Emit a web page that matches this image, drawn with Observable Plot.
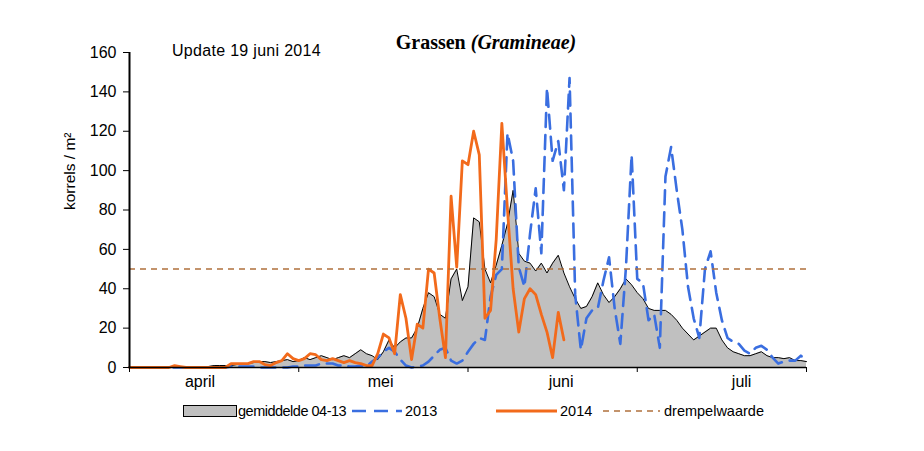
<!DOCTYPE html>
<html><head><meta charset="utf-8">
<script src="https://cdn.jsdelivr.net/npm/d3@7"></script>
<script src="https://cdn.jsdelivr.net/npm/@observablehq/plot@0.6"></script>
<style>
body{margin:0;background:#fff;font-family:"Liberation Sans",Arial,sans-serif;color:#000;}
#wrap{position:relative;width:924px;height:451px;overflow:hidden;}
#chart{position:absolute;left:0;top:0;}
#title{position:absolute;left:0;width:972px;top:31px;text-align:center;font-family:"Liberation Serif",serif;font-weight:bold;font-size:20px;z-index:2;}
#update{position:absolute;left:172px;top:42px;font-size:16px;letter-spacing:0.3px;z-index:2;}
.lg{position:absolute;top:403px;font-size:14.5px;line-height:16px;white-space:nowrap;}
.lg svg{position:absolute;top:0;}
</style></head>
<body><div id="wrap">
<div id="title">Grassen <i>(Gramineae)</i></div>
<div id="update">Update 19 juni 2014</div>
<div id="chart"></div>
<div id="legend"></div>
</div>
<script>
// day index 0 = 1 april
const avg0413 = [0,0,0,0,0,0,0,0,0,0,
 0.5,0.5,0.5,0.5,0.5,1,1,1,1,1.5,
 2,2,2.5,3,3,2.5,3,3.5,4,3,
 3.5,5,4,5,6,5,4,5,6,5,
 7,9,7,6,4,8,14,10,13,15,
 15,20,30,38,36,27,25,45,50,34,
 41,76,74,50,43,52,62,73,90,58,
 54,53,49,53,48,53,57,48,41,35,
 30,31,36,43,37,33,36,40,45,42,
 38,35,30,29,29,29,27,24,20,17,
 14,16,18,20,20,14,10,8,7,6,
 6,7,8,6,5,5,4.5,5,3.5,3.5,3];
const y2013 = [0,0,0,0,0,0,0,0,0,0,
 0,0,0,0,0,0,0,0,0.5,0.5,
 0.5,0.5,0.5,0,0,0,0,0,0,0.5,
 0.5,1,1,1,2,2,2,1,1,0.5,
 0.5,1,0.5,3,5,8,10,8,4,1,
 0,0.5,1,3,6,9,10,3.5,2,3.5,
 8,12,15,14,36,47,50,119,105,51,
 41,68,91,58,142,105,115,90,147,37,
 9,25,29,30,44,56,30,12,51,108,
 45,43,24,27,10,97,112,90,70,41,
 25,15,50,59,38,24,15,13,12,8.6,
 7,10,11,9,5,2,3,3.5,3.5,6,3.5];
const y2014 = [0,0,0,0,0,0,0,0,1,0.5,
 0,0,0,0,0,0,0,0,2,2,
 2,2,3,3,1.5,1,2.5,3.5,7,4.5,
 3.5,4.5,7,6.5,4,3.5,4.5,3.5,2.5,3.5,
 2.5,2,1,1,7,17,15,7,37,25,
 4,22,20,50,48,25,5,87,51,105,
 103,120,108,25,29,65,124,80,40,18,
 35,40,37,27,18,5,28,14];
const threshold = 50;
const yTicks = [0,20,40,60,80,100,120,140,160];
const monthTicks = [0,30,60,90,120];
const monthLabels = ["april","mei","juni","juli"];
const monthLabelDays = [12.5,44.5,76.5,108.5];
const legendLabels = ["gemiddelde 04-13","2013","2014","drempelwaarde"];

const toRows = arr => arr.map((v,i)=>({day:i,v}));
const rAvg = toRows(avg0413), r13 = toRows(y2013), r14 = toRows(y2014);

const chart = Plot.plot({
  width:924, height:400,
  marginLeft:129, marginRight:118, marginTop:52, marginBottom:33,
  x:{domain:[0,120]},
  y:{domain:[0,160]},
  style:{fontFamily:"Liberation Sans, Arial, sans-serif", fontSize:"16px", color:"#000", background:"#fff"},
  marks:[
    Plot.areaY(rAvg,{x:"day",y:"v",fill:"#c0c0c0"}),
    Plot.lineY(rAvg,{x:"day",y:"v",stroke:"#000",strokeWidth:1}),
    Plot.lineY(r13,{x:"day",y:"v",stroke:"#3a6ee0",strokeWidth:2.6,strokeDasharray:"14,8"}),
    Plot.lineY(r14,{x:"day",y:"v",stroke:"#f26a1b",strokeWidth:2.8}),
    Plot.ruleY([threshold],{stroke:"#b0703c",strokeWidth:1.5,strokeDasharray:"6,5"}),
    Plot.ruleX([0],{stroke:"#000",strokeWidth:2}),
    Plot.ruleY([0],{stroke:"#000",strokeWidth:1.5}),
    Plot.axisY({ticks:yTicks,tickSize:6,tickPadding:7,label:null,fontSize:16}),
    Plot.axisX({ticks:monthTicks,tickSize:5,tickFormat:()=>"",label:null}),
    Plot.axisX({ticks:monthLabelDays,tickSize:0,tickPadding:8,tickFormat:(d,i)=>monthLabels[i],label:null,fontSize:16}),
    Plot.text(["korrels / m²"],{frameAnchor:"left",dx:-59,rotate:-90,fontSize:15.5})
  ]
});
document.getElementById("chart").appendChild(chart);

// legend
const lg = document.getElementById("legend");
const items = [
  {x:183, w:53, kind:"box", tx:238, ls:-0.5},
  {x:352, w:50, kind:"dash", color:"#3a6ee0", tx:405, ls:0},
  {x:496, w:61, kind:"line", color:"#f26a1b", tx:560, ls:0},
  {x:603, w:57, kind:"thr", color:"#b0703c", tx:664, ls:0}
];
items.forEach((it,i)=>{
  const d = document.createElement("div");
  d.className="lg"; d.style.left = it.x+"px"; d.style.width=(it.tx-it.x+200)+"px"; d.style.height="20px";
  let sw;
  if(it.kind==="box") sw = `<rect x="0.5" y="2.5" width="${it.w}" height="11" fill="#c0c0c0" stroke="#000" stroke-width="1"/>`;
  else if(it.kind==="dash") sw = `<line x1="0" x2="${it.w}" y1="8" y2="8" stroke="${it.color}" stroke-width="2.6" stroke-dasharray="14,8"/>`;
  else if(it.kind==="line") sw = `<line x1="0" x2="${it.w}" y1="8" y2="8" stroke="${it.color}" stroke-width="2.8"/>`;
  else sw = `<line x1="0" x2="${it.w}" y1="8" y2="8" stroke="${it.color}" stroke-width="1.5" stroke-dasharray="6,5"/>`;
  d.innerHTML = `<svg width="${it.w+2}" height="16">${sw}</svg><span style="position:absolute;left:${it.tx-it.x}px;top:0;letter-spacing:${it.ls}px">${legendLabels[i]}</span>`;
  lg.appendChild(d);
});
</script>
</body></html>
